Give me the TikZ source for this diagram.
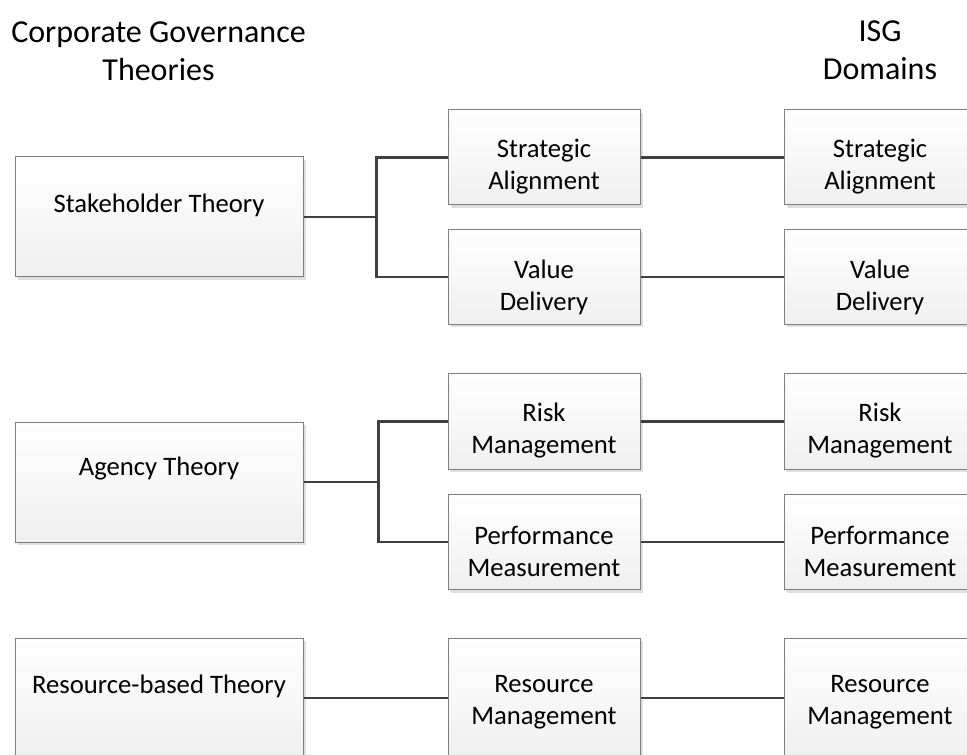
\documentclass[tikz,border=0pt]{standalone}
\usepackage{fontspec}
\setmainfont{Carlito}
\usepackage{xcolor}
\usetikzlibrary{positioning,calc,shadows}

\definecolor{boxline}{HTML}{7F7F7F}
\definecolor{linkgray}{HTML}{404040}

\begin{document}
\begin{tikzpicture}[x=0.75pt,y=-0.75pt, line join=miter,
		box/.style={draw=boxline, line width=0.75pt, top color=white, bottom color=black!6,
			drop shadow={shadow xshift=2.25pt, shadow yshift=-2.25pt, fill=black!13, opacity=1},
			inner sep=0pt},
		theorybox/.style={box, minimum width=216pt, minimum height=90pt},
		domainbox/.style={box, minimum width=144pt, minimum height=71.25pt},
		tallbox/.style={box, minimum width=144pt, minimum height=90pt},
		boxtext/.style={align=center, font=\fontsize{20}{24}\selectfont, inner sep=0pt},
		headtext/.style={align=center, font=\fontsize{24}{28.5}\selectfont, inner sep=0pt, anchor=north},
		link/.style={draw=linkgray, line width=1.6pt, line cap=butt}]
	
	% ---- page frame (px units)
	\useasboundingbox (0,0) rectangle (967,755);
	
	% ---- column centres + junction offset
	\def\xL{159}
	\def\xM{544}
	\def\xR{880}
	\def\jOff{73}
	
	% ---- headings
	\node[headtext] (cgHead)  at (158.5,21) {Corporate Governance\\Theories};
	\node[headtext] (isgHead) at (\xR,20)   {ISG\\Domains};
	
	% ---- theories (left column)
	\node[theorybox] (stake)  at (\xL,217) {};
	\node[theorybox] (agency) at (\xL,482) {};
	\node[theorybox] (rbt)    at (\xL,698) {};
	\node[boxtext] (stakeT)  at ($(stake)+(0,-12)$)  {Stakeholder Theory};
	\node[boxtext] (agencyT) at ($(agency)+(0,-13)$) {Agency Theory};
	\node[boxtext] (rbtT)    at ($(rbt)+(0,-12)$)    {Resource-based Theory};
	
	% ---- mapped domains (middle) + ISG domains (right)
	\foreach \nm/\yy/\st/\dy/\txt in {
		sa/157.5/domainbox/9/{Strategic\\Alignment},
		vd/277/domainbox/10/{Value\\Delivery},
		rm/421.5/domainbox/9/{Risk\\Management},
		pm/542/domainbox/9/{Performance\\Measurement},
		rs/698/tallbox/4/{Resource\\Management}}{
		\node[\st] (\nm M) at (\xM,\yy) {};
		\node[\st] (\nm R) at (\xR,\yy) {};
		\node[boxtext] (\nm MT) at ($(\nm M)+(0,\dy)$) {\txt};
		\node[boxtext] (\nm RT) at ($(\nm R)+(0,\dy)$) {\txt};
		\draw[link] (\nm M.east) -- (\nm R.west);
	}
	
	% ---- theory -> domain connectors
	\draw[link] (stake.east) -- ++(\jOff,0) coordinate (jStake) |- (saM.west);
	\draw[link] (jStake) |- (vdM.west);
	
	\draw[link] (agency.east) -- ++(\jOff+2,0) coordinate (jAgency) |- (rmM.west);
	\draw[link] (jAgency) |- (pmM.west);
	
	\draw[link] (rbt.east) -- (rsM.west);
	
\end{tikzpicture}
\end{document}
